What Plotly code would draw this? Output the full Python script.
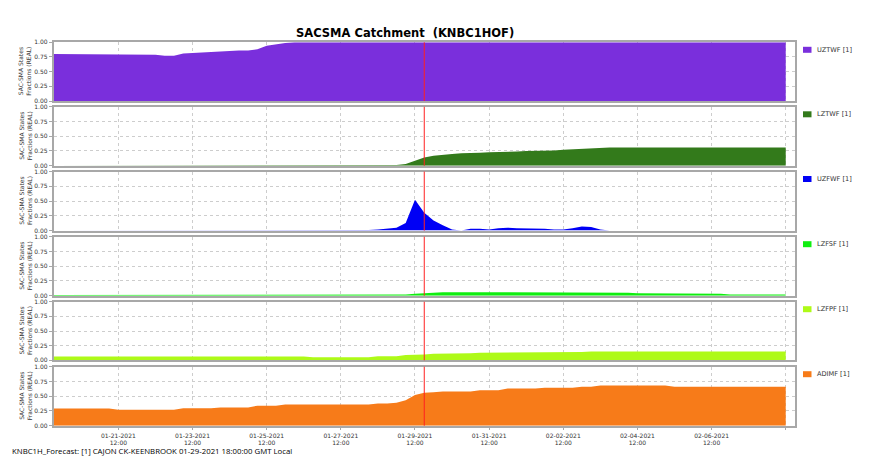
import pandas as pd
import plotly.graph_objects as go

W, H = 876, 470

# ---------------- data (6-hourly, 01-19-2021 18:00 .. 02-08-2021 12:00) ----------------
start_time = "2021-01-19 18:00"
n_steps = 80
times = pd.date_range(start_time, periods=n_steps, freq="6h")

series_names = ["UZTWF [1]", "LZTWF [1]", "UZFWF [1]", "LZFSF [1]", "LZFPF [1]", "ADIMF [1]"]

uztwf = [0.80, 0.80, 0.80, 0.80, 0.79, 0.79, 0.79, 0.79, 0.79, 0.79,
         0.79, 0.79, 0.77, 0.77, 0.81, 0.82, 0.83, 0.83, 0.84, 0.85,
         0.86, 0.86, 0.88, 0.94, 0.97, 0.99, 1.00, 1.00, 1.00, 1.00,
         1.00, 1.00, 1.00, 1.00, 1.00, 1.00, 1.00, 1.00, 1.00, 1.00,
         1.00, 1.00, 1.00, 1.00, 1.00, 1.00, 1.00, 1.00, 1.00, 1.00,
         1.00, 1.00, 1.00, 1.00, 1.00, 1.00, 1.00, 1.00, 1.00, 1.00,
         1.00, 1.00, 1.00, 1.00, 1.00, 1.00, 1.00, 1.00, 1.00, 1.00,
         1.00, 1.00, 1.00, 1.00, 1.00, 1.00, 1.00, 1.00, 1.00, 1.00]

lztwf = [0.00, 0.00, 0.00, 0.00, 0.00, 0.00, 0.00, 0.00, 0.00, 0.00,
         0.00, 0.00, 0.00, 0.00, 0.00, 0.00, 0.00, 0.00, 0.00, 0.00,
         0.00, 0.00, 0.00, 0.00, 0.00, 0.00, 0.00, 0.00, 0.00, 0.00,
         0.00, 0.00, 0.00, 0.00, 0.00, 0.00, 0.00, 0.01, 0.03, 0.08,
         0.14, 0.17, 0.19, 0.20, 0.21, 0.21, 0.22, 0.23, 0.23, 0.24,
         0.24, 0.25, 0.25, 0.26, 0.26, 0.27, 0.28, 0.28, 0.29, 0.30,
         0.31, 0.31, 0.31, 0.31, 0.31, 0.31, 0.31, 0.31, 0.31, 0.31,
         0.31, 0.31, 0.31, 0.31, 0.31, 0.31, 0.31, 0.31, 0.31, 0.31]

uzfwf = [0.00, 0.00, 0.00, 0.00, 0.00, 0.00, 0.00, 0.00, 0.00, 0.00,
         0.00, 0.00, 0.00, 0.00, 0.00, 0.00, 0.00, 0.00, 0.00, 0.00,
         0.00, 0.00, 0.00, 0.00, 0.00, 0.00, 0.00, 0.00, 0.00, 0.00,
         0.00, 0.00, 0.00, 0.00, 0.01, 0.02, 0.03, 0.05, 0.13, 0.52,
         0.30, 0.17, 0.09, 0.02, 0.00, 0.03, 0.03, 0.02, 0.04, 0.05,
         0.04, 0.04, 0.04, 0.03, 0.02, 0.02, 0.04, 0.07, 0.06, 0.02,
         0.00, 0.00, 0.00, 0.00, 0.00, 0.00, 0.00, 0.00, 0.00, 0.00,
         0.00, 0.00, 0.00, 0.00, 0.00, 0.00, 0.00, 0.00, 0.00, 0.00]

lzfsf = [0.010, 0.010, 0.010, 0.010, 0.010, 0.010, 0.010, 0.010, 0.010, 0.010,
         0.010, 0.010, 0.010, 0.010, 0.010, 0.010, 0.010, 0.010, 0.010, 0.010,
         0.010, 0.010, 0.010, 0.010, 0.010, 0.010, 0.010, 0.010, 0.010, 0.010,
         0.010, 0.010, 0.010, 0.010, 0.010, 0.010, 0.010, 0.015, 0.020, 0.035,
         0.045, 0.060, 0.060, 0.060, 0.060, 0.050, 0.050, 0.050, 0.050, 0.050,
         0.050, 0.050, 0.050, 0.050, 0.050, 0.050, 0.050, 0.050, 0.050, 0.050,
         0.050, 0.050, 0.050, 0.040, 0.040, 0.040, 0.040, 0.035, 0.035, 0.035,
         0.035, 0.035, 0.035, 0.020, 0.020, 0.020, 0.020, 0.020, 0.020, 0.020]

lzfpf = [0.065, 0.065, 0.065, 0.065, 0.065, 0.065, 0.065, 0.065, 0.065, 0.065,
         0.065, 0.065, 0.065, 0.065, 0.065, 0.065, 0.065, 0.065, 0.065, 0.065,
         0.065, 0.065, 0.065, 0.065, 0.065, 0.065, 0.065, 0.065, 0.050, 0.050,
         0.050, 0.050, 0.050, 0.050, 0.050, 0.070, 0.070, 0.070, 0.090, 0.090,
         0.100, 0.110, 0.110, 0.120, 0.120, 0.120, 0.130, 0.130, 0.130, 0.130,
         0.130, 0.140, 0.140, 0.140, 0.140, 0.140, 0.140, 0.140, 0.150, 0.150,
         0.150, 0.150, 0.150, 0.150, 0.150, 0.150, 0.150, 0.150, 0.150, 0.150,
         0.150, 0.150, 0.150, 0.150, 0.150, 0.150, 0.150, 0.150, 0.150, 0.150]

adimf = [0.290, 0.290, 0.290, 0.290, 0.290, 0.290, 0.290, 0.270, 0.270, 0.270,
         0.270, 0.270, 0.270, 0.270, 0.295, 0.295, 0.295, 0.295, 0.310, 0.310,
         0.310, 0.310, 0.340, 0.340, 0.340, 0.360, 0.360, 0.360, 0.360, 0.360,
         0.360, 0.360, 0.360, 0.360, 0.360, 0.375, 0.375, 0.390, 0.430, 0.520,
         0.560, 0.565, 0.580, 0.580, 0.580, 0.580, 0.600, 0.600, 0.600, 0.630,
         0.630, 0.630, 0.630, 0.645, 0.645, 0.645, 0.645, 0.660, 0.660, 0.680,
         0.680, 0.680, 0.680, 0.680, 0.680, 0.680, 0.680, 0.660, 0.660, 0.660,
         0.660, 0.660, 0.660, 0.660, 0.660, 0.660, 0.660, 0.660, 0.660, 0.660]

series_values = [uztwf, lztwf, uzfwf, lzfsf, lzfpf, adimf]

y_tick_vals = [0, 0.25, 0.5, 0.75, 1.0]
y_tick_text = ["0.00", "0.25", "0.50", "0.75", "1.00"]

x_tick_vals = ["2021-01-21 12:00", "2021-01-23 12:00", "2021-01-25 12:00", "2021-01-27 12:00",
               "2021-01-29 12:00", "2021-01-31 12:00", "2021-02-02 12:00", "2021-02-04 12:00",
               "2021-02-06 12:00", "2021-02-08 12:00"]
x_tick_text = ["01-21-2021<br>12:00", "01-23-2021<br>12:00", "01-25-2021<br>12:00",
               "01-27-2021<br>12:00", "01-29-2021<br>12:00", "01-31-2021<br>12:00",
               "02-02-2021<br>12:00", "02-04-2021<br>12:00", "02-06-2021<br>12:00", ""]

forecast_time = "2021-01-29 18:00"
x_range = ["2021-01-19 18:00", "2021-02-08 18:00"]

title_text = "SACSMA Catchment  (KNBC1HOF)"
footer_text = "KNBC1H_Forecast: [1] CAJON CK-KEENBROOK 01-29-2021 18:00:00 GMT Local"
y_title = "SAC-SMA States<br>Fractions (REAL)"

# ---------------- styling ----------------
colors = ["#7a2fdc", "#337a1b", "#0000f5", "#10ee10", "#aefa18", "#f77b19"]
# panel pixel extents (top, bottom)
panels_px = [(42.3, 101.0), (106.8, 165.7), (171.5, 230.6),
             (236.7, 295.7), (301.7, 360.3), (366.7, 425.7)]
x_left_px, x_right_px = 53.5, 795.0

def px(x):
    return x / W

def py(y):
    return 1 - y / H

fig = go.Figure()
layout = dict(
    width=W, height=H,
    margin=dict(l=0, r=0, t=0, b=0),
    paper_bgcolor="white", plot_bgcolor="white",
    showlegend=False,
    font=dict(family="DejaVu Sans", color="#333333"),
)
shapes = []
annotations = []

grid_col = "#cdcdcd"
frame_col = "#a8a8a8"

for i in range(6):
    k = i + 1
    xa = "x" if k == 1 else f"x{k}"
    ya = "y" if k == 1 else f"y{k}"
    fig.add_trace(go.Scatter(
        x=times, y=series_values[i], xaxis=xa, yaxis=ya,
        mode="lines", fill="tozeroy", fillcolor=colors[i],
        line=dict(color=colors[i], width=0), hoverinfo="skip",
        name=series_names[i],
    ))
    top, bot = panels_px[i]
    layout[f"xaxis{'' if k == 1 else k}"] = dict(
        domain=[px(x_left_px), px(x_right_px)], anchor=ya, type="date",
        range=x_range, tickmode="array", tickvals=x_tick_vals, ticktext=x_tick_text,
        showticklabels=(k == 6), showgrid=True, gridcolor=grid_col, griddash="dot",
        gridwidth=1, showline=True, mirror=True, linecolor=frame_col, linewidth=1.5,
        zeroline=False, ticks="outside" if k == 6 else "", ticklen=3, tickcolor=frame_col,
        tickfont=dict(size=6, color="#333333", family="DejaVu Sans"), automargin=False,
    )
    layout[f"yaxis{'' if k == 1 else k}"] = dict(
        domain=[py(bot), py(top)], anchor=xa, range=[0, 1],
        tickmode="array", tickvals=y_tick_vals, ticktext=y_tick_text,
        showgrid=True, gridcolor=grid_col, griddash="dot", gridwidth=1,
        showline=True, mirror=True, linecolor=frame_col, linewidth=1.5,
        zeroline=False, ticks="outside", ticklen=3, tickcolor=frame_col,
        tickfont=dict(size=6, color="#333333", family="DejaVu Sans"), automargin=False,
    )
    # forecast time marker
    shapes.append(dict(type="line", xref=xa, yref=f"{ya} domain",
                       x0=forecast_time, x1=forecast_time, y0=0, y1=1,
                       line=dict(color="#ff2020", width=1), layer="above"))
    # y-axis title
    annotations.append(dict(text=y_title, x=px(25), y=py((top + bot) / 2),
                            xref="paper", yref="paper", showarrow=False,
                            textangle=-90, font=dict(size=6, color="#333333"),
                            xanchor="center", yanchor="middle"))
    # legend swatch + label
    shapes.append(dict(type="rect", xref="paper", yref="paper",
                       x0=px(803), x1=px(811.5), y0=py(top + 10.5), y1=py(top + 4.5),
                       fillcolor=colors[i], line=dict(width=0)))
    annotations.append(dict(text=series_names[i], x=px(814.5), y=py(top + 7.5),
                            xref="paper", yref="paper", showarrow=False,
                            xanchor="left", yanchor="middle",
                            font=dict(size=6.6, color="#333333")))

annotations.append(dict(text=f"<b>{title_text}</b>", x=px(404.5), y=py(32.5),
                        xref="paper", yref="paper", showarrow=False,
                        xanchor="center", yanchor="middle",
                        font=dict(size=11.5, color="black", family="DejaVu Sans")))
annotations.append(dict(text=footer_text, x=px(10), y=py(451), xref="paper", yref="paper",
                        showarrow=False, xanchor="left", yanchor="middle",
                        font=dict(size=7.8, color="black", family="Open Sans")))

layout["shapes"] = shapes
layout["annotations"] = annotations
fig.update_layout(**layout)
fig.write_html("out.html", config={"displayModeBar": False},
               post_script="document.body.style.margin='0';document.body.style.padding='0';")
